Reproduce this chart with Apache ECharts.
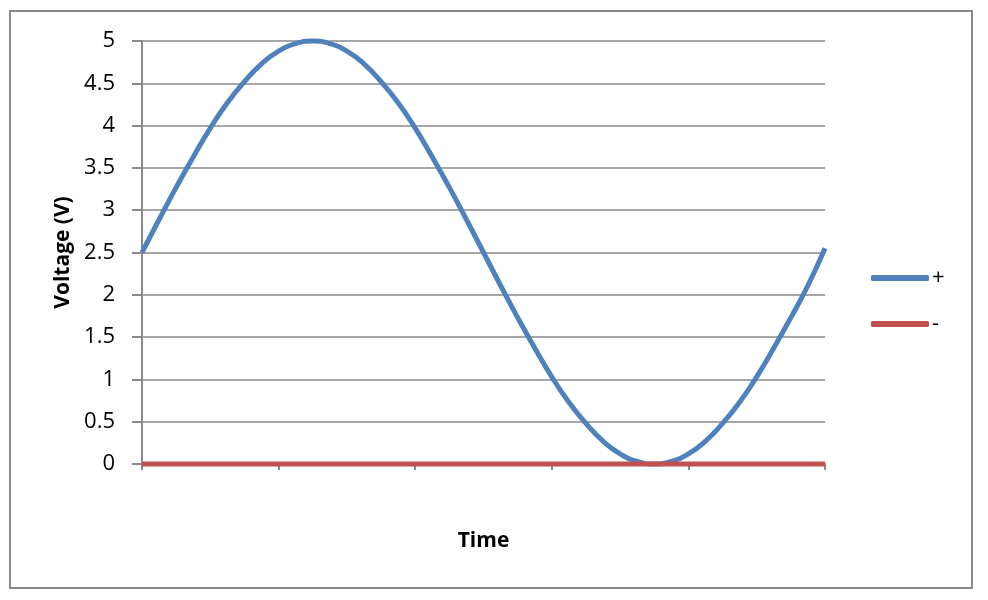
<!DOCTYPE html>
<html><head><meta charset="utf-8">
<script src="https://cdn.jsdelivr.net/npm/echarts@6/dist/echarts.min.js"></script>
<style>html,body{margin:0;padding:0;background:#fff}#c{width:988px;height:600px}</style>
</head><body><div id="c"></div>
<script>
// x positions (time, arbitrary units) and values
const timePoints = [0,0.125,0.25,0.375,0.5,0.625,0.75,0.875,1,1.125,1.25,1.375,1.5,1.625,1.75,1.875,2,2.125,2.25,2.375,2.5,2.625,2.75,2.875,3,3.125,3.25,3.375,3.5,3.625,3.75,3.875,4,4.125,4.25,4.375,4.5,4.625,4.75,4.875,5];
const plusValues = [2.5,2.89,3.27,3.63,3.97,4.27,4.52,4.73,4.88,4.97,5.0,4.97,4.88,4.73,4.52,4.27,3.97,3.63,3.27,2.89,2.5,2.11,1.73,1.37,1.03,0.73,0.48,0.27,0.12,0.03,0.0,0.03,0.12,0.27,0.48,0.73,1.03,1.37,1.73,2.11,2.55];
const minusTime = [0,5];
const minusValues = [0,0];
const seriesNames = ['+','-'];
const yAxisName = 'Voltage (V)';
const xAxisName = 'Time';

const chart = echarts.init(document.getElementById('c'), null, {renderer:'canvas'});
const font = 'Open Sans, Noto Sans, sans-serif';
const gray = '#8a8a8a';
chart.setOption({
  animation:false,
  textStyle:{fontFamily:font},
  graphic:[{type:'rect',shape:{x:10,y:11,width:962,height:577},style:{fill:'none',stroke:gray,lineWidth:2},silent:true}],
  grid:{left:142,right:163,top:41,bottom:136},
  legend:{
    orient:'vertical', left:866, top:262, itemGap:24,
    itemWidth:58, itemHeight:6, icon:'roundRect',
    textStyle:{fontSize:22,color:'#000',fontFamily:font,padding:[0,0,0,-2]},
    data:seriesNames
  },
  xAxis:{
    type:'value', min:0, max:5, interval:1,
    name:xAxisName, nameLocation:'middle', nameGap:67,
    nameTextStyle:{fontSize:21,fontWeight:'bold',color:'#000',fontFamily:font},
    axisLine:{show:true,lineStyle:{color:gray,width:2}},
    axisTick:{show:true,length:6,lineStyle:{color:gray,width:2}},
    axisLabel:{show:false},
    splitLine:{show:false}
  },
  yAxis:{
    type:'value', min:0, max:5, interval:0.5,
    name:yAxisName, nameLocation:'middle', nameGap:66, nameRotate:90,
    nameTextStyle:{fontSize:21,fontWeight:'bold',color:'#000',fontFamily:font},
    axisLine:{show:true,lineStyle:{color:gray,width:2}},
    axisTick:{show:true,length:10,lineStyle:{color:gray,width:2}},
    axisLabel:{fontSize:22,color:'#000',margin:27,fontFamily:font},
    splitLine:{show:true,lineStyle:{color:gray,width:1.5}}
  },
  series:[
    {name:seriesNames[0],type:'line',smooth:true,showSymbol:false,symbol:'none',clip:false,
     data:timePoints.map((t,i)=>[t,plusValues[i]]),
     lineStyle:{color:'#4F81BD',width:5},itemStyle:{color:'#4F81BD'}},
    {name:seriesNames[1],type:'line',showSymbol:false,symbol:'none',clip:false,
     data:minusTime.map((t,i)=>[t,minusValues[i]]),
     lineStyle:{color:'#C0504D',width:5},itemStyle:{color:'#C0504D'}}
  ]
});
</script></body></html>
